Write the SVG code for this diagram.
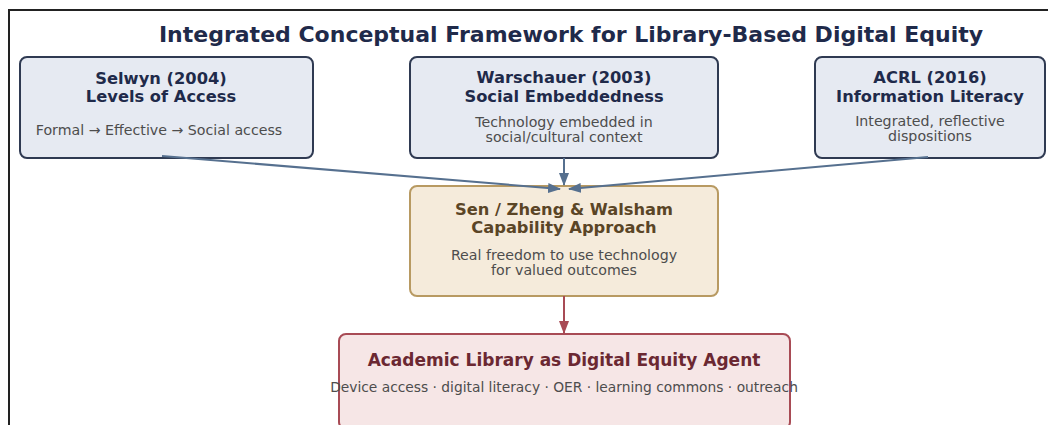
<svg xmlns="http://www.w3.org/2000/svg" width="1048" height="425" viewBox="0 0 1048 425">
<defs>
<style>
text{font-family:"DejaVu Sans","Liberation Sans",sans-serif;text-anchor:middle}
.title{font-size:22px;font-weight:bold;fill:#1f2a4a}
.blue rect{fill:#e6eaf2;stroke:#2f3a52;stroke-width:2}
.blue .h{font-size:16.3px;font-weight:bold;fill:#1f2a4a}
.sub{font-size:14.2px;fill:#4d4d4d}
.tan rect{fill:#f5ebdb;stroke:#b89a62;stroke-width:2}
.tan .h{font-size:16.3px;font-weight:bold;fill:#5a4526}
.red rect{fill:#f6e6e6;stroke:#a84b55;stroke-width:2}
.red .h{font-size:17px;font-weight:bold;fill:#6b2832}
.red .sub{font-size:13.8px}
.cb{stroke:#56708f;stroke-width:2;fill:none}
.cr{stroke:#a84b55;stroke-width:2;fill:none}
</style>
<marker id="ab" markerWidth="13" markerHeight="10" refX="12" refY="5" orient="auto" markerUnits="userSpaceOnUse"><path d="M0,0 L13,5 L0,10 Z" fill="#56708f"/></marker>
<marker id="ar" markerWidth="13" markerHeight="10" refX="12" refY="5" orient="auto" markerUnits="userSpaceOnUse"><path d="M0,0 L13,5 L0,10 Z" fill="#a84b55"/></marker>
</defs>
<rect width="1048" height="425" fill="#ffffff"/>
<path d="M9,425 V10 H1048" fill="none" stroke="#222" stroke-width="2"/>
<text class="title" x="571" y="42">Integrated Conceptual Framework for Library-Based Digital Equity</text>
<g id="selwyn" class="blue">
<rect x="20" y="57" width="293" height="101" rx="7"/>
<text class="h" x="161" y="84">Selwyn (2004)</text>
<text class="h" x="161" y="102">Levels of Access</text>
<text class="sub" x="159" y="135">Formal → Effective → Social access</text>
</g>
<g id="warschauer" class="blue">
<rect x="410" y="57" width="308" height="101" rx="7"/>
<text class="h" x="564" y="83">Warschauer (2003)</text>
<text class="h" x="564" y="102">Social Embeddedness</text>
<text class="sub" x="564" y="127">Technology embedded in</text>
<text class="sub" x="564" y="142">social/cultural context</text>
</g>
<g id="acrl" class="blue">
<rect x="815" y="57" width="230" height="101" rx="7"/>
<text class="h" x="930" y="83">ACRL (2016)</text>
<text class="h" x="930" y="102">Information Literacy</text>
<text class="sub" x="930" y="126">Integrated, reflective</text>
<text class="sub" x="930" y="141">dispositions</text>
</g>
<g id="sen" class="tan">
<rect x="410" y="186" width="308" height="110" rx="7"/>
<text class="h" x="564" y="215">Sen / Zheng &amp; Walsham</text>
<text class="h" x="564" y="233">Capability Approach</text>
<text class="sub" x="564" y="260">Real freedom to use technology</text>
<text class="sub" x="564" y="275">for valued outcomes</text>
</g>
<g id="library" class="red">
<rect x="339" y="334" width="451" height="95" rx="7"/>
<text class="h" x="564" y="366">Academic Library as Digital Equity Agent</text>
<text class="sub" x="564" y="392">Device access · digital literacy · OER · learning commons · outreach</text>
</g>
<g id="connectors">
<path class="cb" d="M162,156 L560,189" marker-end="url(#ab)"/>
<path class="cb" d="M564,158 L564,185" marker-end="url(#ab)"/>
<path class="cb" d="M928,157 L569,189" marker-end="url(#ab)"/>
<path class="cr" d="M564,296 L564,333" marker-end="url(#ar)"/>
</g>
</svg>
